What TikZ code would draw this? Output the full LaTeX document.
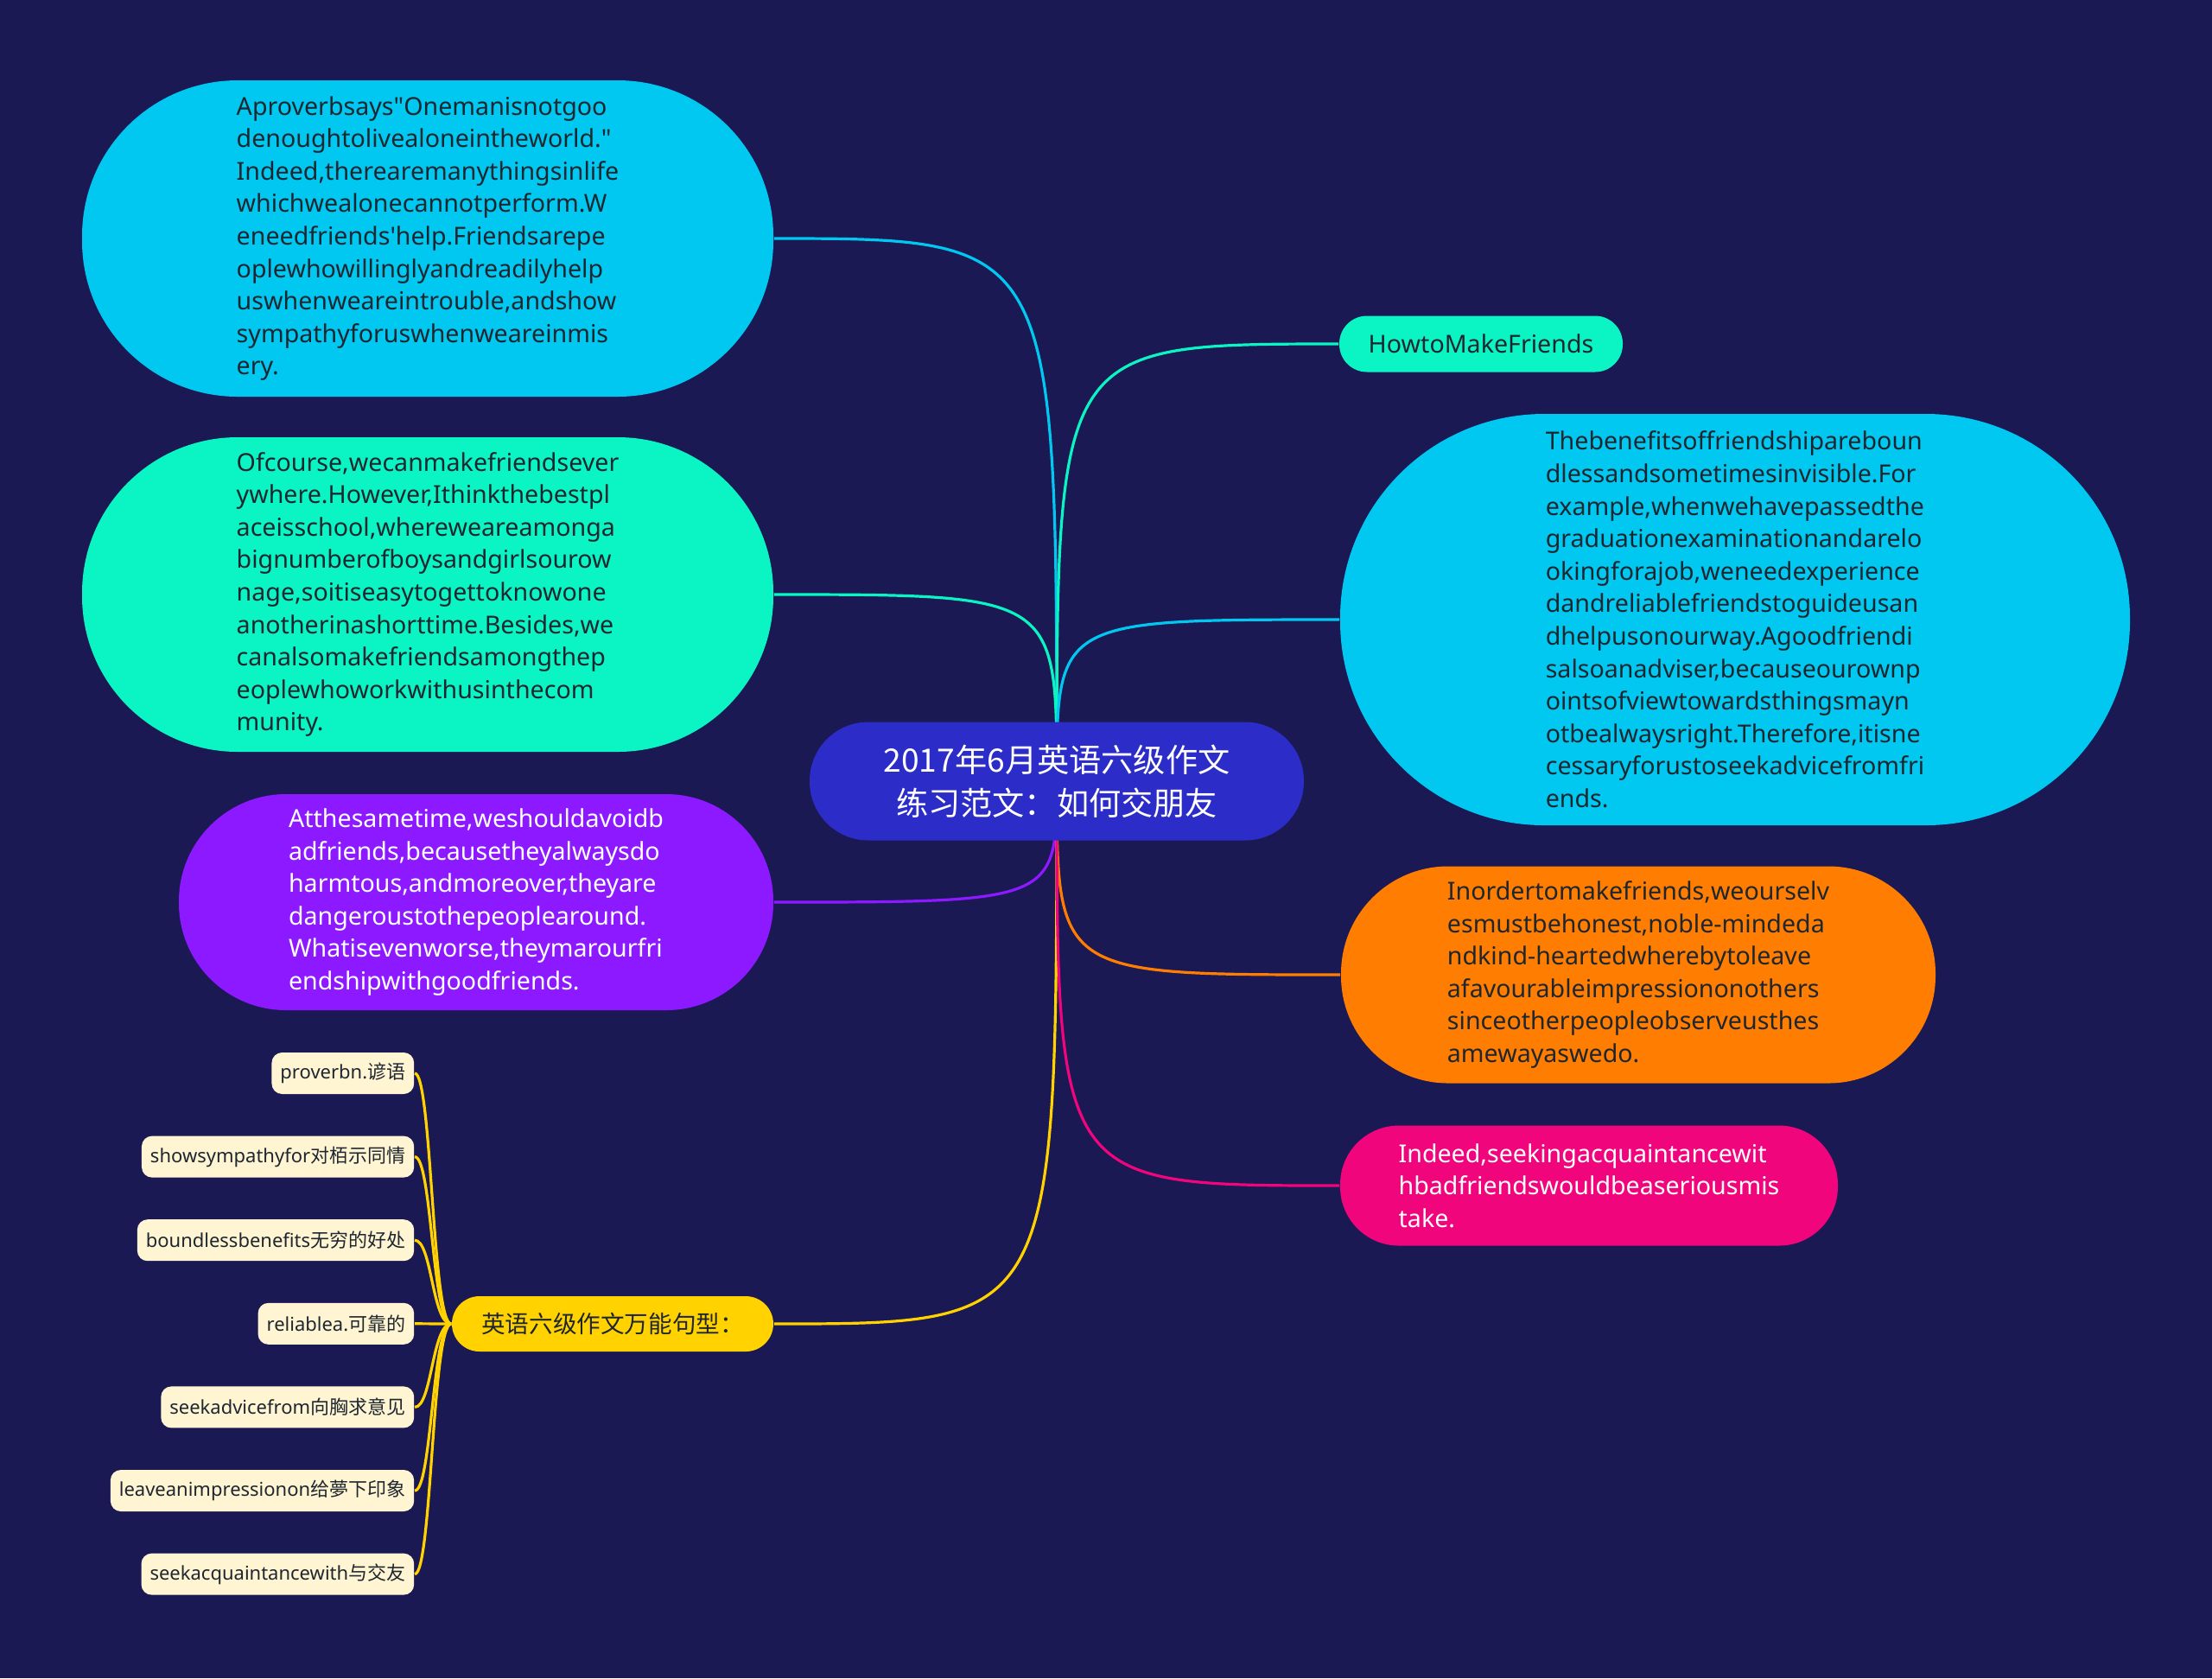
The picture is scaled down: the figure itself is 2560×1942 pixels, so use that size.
\documentclass[tikz,border=0pt]{standalone}
\usepackage{fontspec}
\setmainfont{Noto Sans}[Ligatures=TeXOff]
\newfontfamily\cjk{Noto Sans CJK SC}
\usepackage{xcolor}
\usepackage{tikz}
\usetikzlibrary{positioning, calc}
\definecolor{bgnavy}{RGB}{27,25,84}
\definecolor{rootblue}{RGB}{44,44,200}
\definecolor{skycyan}{RGB}{0,200,240}
\definecolor{mint}{RGB}{10,245,195}
\definecolor{violet}{RGB}{140,25,255}
\definecolor{gold}{RGB}{255,210,0}
\definecolor{tangerine}{RGB}{255,125,0}
\definecolor{magenta}{RGB}{240,5,125}
\definecolor{cream}{RGB}{255,245,210}
\definecolor{inkdark}{RGB}{30,38,48}
\pgfdeclarelayer{back}
\pgfdeclarelayer{edges}
\pgfsetlayers{back,edges,main}
\tikzstyle{root} = [rectangle, rounded corners=17pt, minimum width=143pt, minimum height=34.25pt, fill=rootblue, text=white, align=center, font=\cjk\fontsize{9.3}{12.6}\selectfont]
\tikzstyle{topic} = [rectangle, align=left, text=inkdark, inner sep=0pt, font=\fontsize{7.15}{9.4}\selectfont]
\tikzstyle{leaf} = [rectangle, rounded corners=3pt, fill=cream, text=inkdark, minimum height=12pt, inner xsep=2.5pt, inner ysep=0pt, font=\fontsize{5.5}{6.5}\selectfont]
\tikzstyle{line} = [line width=0.8pt]

\begin{document}
\begin{tikzpicture}[x=0.25pt, y=-0.25pt]
    \useasboundingbox (0,0) rectangle (2560,1942);
    \begin{pgfonlayer}{back}
        \fill[bgnavy] (0,0) rectangle (2560,1942);
    \end{pgfonlayer}

    % Centro
    \node (ctr) [root] at (1223,904) {2017年6月英语六级作文\\练习范文：如何交朋友};

    % Izquierda
    \node (prov) [topic, fill=skycyan, minimum width=200pt, minimum height=91.5pt, rounded corners=45pt] at (495,276) {Aproverbsays"Onemanisnotgoo\\
denoughtolivealoneintheworld."\\
Indeed,therearemanythingsinlife\\
whichwealonecannotperform.W\\
eneedfriends'help.Friendsarepe\\
oplewhowillinglyandreadilyhelp\\
uswhenweareintrouble,andshow\\
sympathyforuswhenweareinmis\\
ery.};
    \node (school) [topic, fill=mint, minimum width=200pt, minimum height=91pt, rounded corners=45pt] at (495,688) {Ofcourse,wecanmakefriendsever\\
ywhere.However,Ithinkthebestpl\\
aceisschool,whereweareamonga\\
bignumberofboysandgirlsourow\\
nage,soitiseasytogettoknowone\\
anotherinashorttime.Besides,we\\
canalsomakefriendsamongthep\\
eoplewhoworkwithusinthecom\\
munity.};
    \node (avoid) [topic, fill=violet, text=white, minimum width=172pt, minimum height=62.5pt, rounded corners=31pt] at (551,1044) {Atthesametime,weshouldavoidb\\
adfriends,becausetheyalwaysdo\\
harmtous,andmoreover,theyare\\
dangeroustothepeoplearound.\\
Whatisevenworse,theymarourfri\\
endshipwithgoodfriends.};
    \node (phr) [topic, fill=gold, minimum width=93pt, minimum height=16pt, rounded corners=8pt, font=\cjk\fontsize{6.9}{8}\selectfont] at (709,1532) {英语六级作文万能句型：};

    % Frases
    \node (lf1) [leaf, anchor=east] at (480,1242) {proverbn.{\cjk 谚语}};
    \node (lf2) [leaf, below left=11.75pt and 0pt of lf1.south east] {showsympathyfor{\cjk 对栢示同情}};
    \node (lf3) [leaf, below left=11.75pt and 0pt of lf2.south east] {boundlessbenefits{\cjk 无穷的好处}};
    \node (lf4) [leaf, below left=11.75pt and 0pt of lf3.south east] {reliablea.{\cjk 可靠的}};
    \node (lf5) [leaf, below left=11.75pt and 0pt of lf4.south east] {seekadvicefrom{\cjk 向胸求意见}};
    \node (lf6) [leaf, below left=11.75pt and 0pt of lf5.south east] {leaveanimpressionon{\cjk 给夢下印象}};
    \node (lf7) [leaf, below left=11.75pt and 0pt of lf6.south east] {seekacquaintancewith{\cjk 与交友}};
    \coordinate (bx) at (500,1532);

    % Derecha
    \node (title) [topic, fill=mint, minimum width=82pt, minimum height=16.25pt, rounded corners=8pt, align=center] at (1714,398) {HowtoMakeFriends};
    \node (benef) [topic, fill=skycyan, minimum width=228.5pt, minimum height=119pt, rounded corners=59pt] at (2008,717) {Thebenefitsoffriendshipareboun\\
dlessandsometimesinvisible.For\\
example,whenwehavepassedthe\\
graduationexaminationandarelo\\
okingforajob,weneedexperience\\
dandreliablefriendstoguideusan\\
dhelpusonourway.Agoodfriendi\\
salsoanadviser,becauseourownp\\
ointsofviewtowardsthingsmayn\\
otbealwaysright.Therefore,itisne\\
cessaryforustoseekadvicefromfri\\
ends.};
    \node (honest) [topic, fill=tangerine, minimum width=172pt, minimum height=62.75pt, rounded corners=31pt] at (1896,1128) {Inordertomakefriends,weourselv\\
esmustbehonest,noble-mindeda\\
ndkind-heartedwherebytoleave\\
afavourableimpressiononothers\\
sinceotherpeopleobserveusthes\\
amewayaswedo.};
    \node (mistake) [topic, fill=magenta, text=white, minimum width=144pt, minimum height=34.75pt, rounded corners=17pt] at (1839,1372) {Indeed,seekingacquaintancewit\\
hbadfriendswouldbeaseriousmis\\
take.};

    % Conectores
    \begin{pgfonlayer}{edges}
        \draw [line, skycyan] (ctr.center) .. controls (ctr.center |- prov.east) .. (prov.east);
        \draw [line, mint] (ctr.center) .. controls (ctr.center |- school.east) .. (school.east);
        \draw [line, violet] (ctr.center) .. controls (ctr.center |- avoid.east) .. (avoid.east);
        \draw [line, gold] (ctr.center) .. controls (ctr.center |- phr.east) .. (phr.east);
        \draw [line, mint] (ctr.center) .. controls (ctr.center |- title.west) .. (title.west);
        \draw [line, skycyan] (ctr.center) .. controls (ctr.center |- benef.west) .. (benef.west);
        \draw [line, tangerine] (ctr.center) .. controls (ctr.center |- honest.west) .. (honest.west);
        \draw [line, magenta] (ctr.center) .. controls (ctr.center |- mistake.west) .. (mistake.west);
        \foreach \i in {1,...,7}
            \draw [line, gold] (phr.west) .. controls (bx) and (bx |- lf\i.east) .. (lf\i.east);
    \end{pgfonlayer}
\end{tikzpicture}
\end{document}
